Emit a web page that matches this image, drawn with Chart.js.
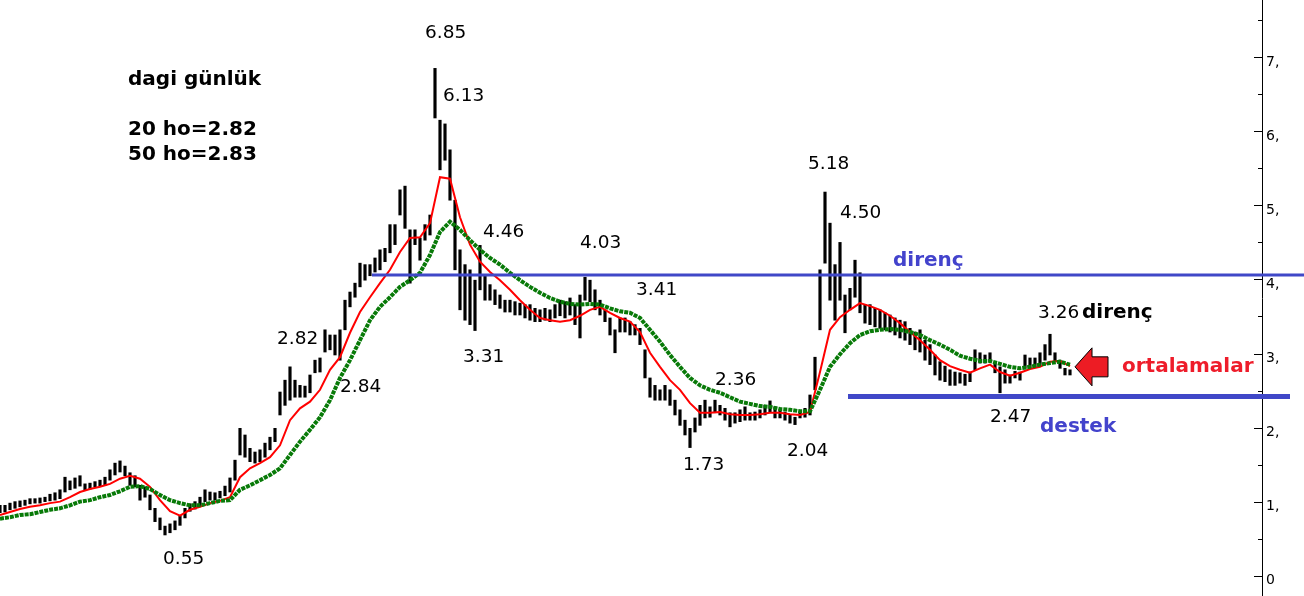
<!DOCTYPE html>
<html>
<head>
<meta charset="utf-8">
<script src="https://cdn.jsdelivr.net/npm/chart.js@4.4.1/dist/chart.umd.min.js"></script>
<style>
  html, body { margin: 0; padding: 0; background: #fff; }
  #wrap { width: 1304px; height: 596px; position: relative; }
</style>
</head>
<body>
<div id="wrap"><canvas id="dagi-chart"></canvas></div>
<script>
// daily bars: low and high, one entry per trading day
const barLows = [
  0.85, 0.86, 0.89, 0.91, 0.93, 0.95, 0.97, 0.98, 0.98, 1.00,
  1.01, 1.02, 1.04, 1.13, 1.16, 1.18, 1.21, 1.16, 1.17, 1.20,
  1.21, 1.22, 1.29, 1.36, 1.40, 1.35, 1.22, 1.20, 1.02, 1.06,
  0.89, 0.73, 0.62, 0.55, 0.58, 0.62, 0.68, 0.78, 0.87, 0.90,
  0.94, 1.00, 1.02, 1.02, 1.05, 1.08, 1.13, 1.29, 1.63, 1.60,
  1.54, 1.52, 1.54, 1.60, 1.70, 1.81, 2.17, 2.30, 2.37, 2.41,
  2.41, 2.41, 2.47, 2.74, 2.75, 3.02, 3.05, 2.98, 2.91, 3.32,
  3.63, 3.76, 3.90, 3.99, 4.05, 4.10, 4.13, 4.24, 4.36, 4.47,
  4.87, 4.69, 3.95, 4.47, 4.26, 4.53, 4.60, 6.18, 5.48, 5.61,
  5.07, 4.13, 3.59, 3.45, 3.39, 3.31, 3.86, 3.72, 3.72, 3.66,
  3.61, 3.56, 3.56, 3.52, 3.52, 3.48, 3.45, 3.43, 3.43, 3.45,
  3.43, 3.48, 3.51, 3.48, 3.52, 3.39, 3.21, 3.72, 3.70, 3.59,
  3.52, 3.43, 3.25, 3.01, 3.29, 3.29, 3.25, 3.25, 3.12, 2.67,
  2.41, 2.37, 2.37, 2.37, 2.30, 2.17, 2.03, 1.90, 1.73, 1.94,
  2.03, 2.13, 2.14, 2.20, 2.17, 2.10, 2.01, 2.06, 2.08, 2.10,
  2.10, 2.10, 2.13, 2.17, 2.21, 2.13, 2.13, 2.10, 2.06, 2.04,
  2.13, 2.14, 2.17, 2.51, 3.32, 4.22, 3.72, 3.45, 3.72, 3.28,
  3.59, 3.76, 3.55, 3.41, 3.39, 3.36, 3.34, 3.32, 3.29, 3.25,
  3.21, 3.18, 3.12, 3.05, 3.02, 2.91, 2.85, 2.71, 2.64, 2.62,
  2.57, 2.57, 2.60, 2.57, 2.62, 2.78, 2.87, 2.87, 2.89, 2.74,
  2.47, 2.60, 2.60, 2.67, 2.64, 2.80, 2.80, 2.82, 2.85, 2.91,
  2.98, 2.89, 2.80, 2.71, 2.71
];
const barHighs = [
  0.95, 0.95, 0.98, 1.00, 1.01, 1.02, 1.04, 1.04, 1.05, 1.06,
  1.10, 1.12, 1.16, 1.33, 1.28, 1.32, 1.35, 1.24, 1.25, 1.27,
  1.29, 1.33, 1.43, 1.52, 1.55, 1.48, 1.39, 1.35, 1.22, 1.20,
  1.09, 0.91, 0.78, 0.67, 0.70, 0.74, 0.81, 0.91, 0.97, 1.00,
  1.06, 1.16, 1.13, 1.12, 1.14, 1.21, 1.32, 1.56, 1.99, 1.90,
  1.72, 1.67, 1.70, 1.79, 1.87, 1.99, 2.48, 2.64, 2.82, 2.64,
  2.57, 2.56, 2.71, 2.91, 2.94, 3.32, 3.25, 3.25, 3.32, 3.72,
  3.83, 3.95, 4.22, 4.20, 4.20, 4.29, 4.40, 4.42, 4.74, 4.74,
  5.21, 5.26, 4.67, 4.67, 4.56, 4.74, 4.87, 6.85, 6.15, 6.10,
  5.75, 5.07, 4.40, 4.20, 4.13, 3.99, 4.46, 4.06, 3.93, 3.86,
  3.79, 3.72, 3.72, 3.70, 3.68, 3.66, 3.66, 3.61, 3.59, 3.61,
  3.59, 3.66, 3.72, 3.70, 3.75, 3.66, 3.79, 4.03, 3.99, 3.86,
  3.72, 3.59, 3.48, 3.32, 3.48, 3.48, 3.43, 3.39, 3.34, 3.05,
  2.67, 2.57, 2.51, 2.57, 2.51, 2.37, 2.24, 2.10, 1.99, 2.13,
  2.30, 2.37, 2.28, 2.37, 2.30, 2.26, 2.20, 2.20, 2.24, 2.28,
  2.20, 2.21, 2.24, 2.30, 2.36, 2.28, 2.24, 2.21, 2.17, 2.14,
  2.21, 2.26, 2.44, 2.95, 4.13, 5.18, 4.76, 4.20, 4.50, 3.79,
  3.88, 4.26, 4.09, 3.66, 3.66, 3.61, 3.59, 3.55, 3.52, 3.48,
  3.45, 3.43, 3.34, 3.29, 3.32, 3.18, 3.12, 2.98, 2.89, 2.83,
  2.78, 2.75, 2.74, 2.72, 2.75, 3.05, 3.01, 2.98, 3.01, 2.87,
  2.82, 2.78, 2.71, 2.76, 2.75, 2.98, 2.94, 2.94, 3.01, 3.12,
  3.26, 3.01, 2.91, 2.80, 2.78
];

// moving averages, read every second day
const maStep = 2;
const ma20 = [
  0.82, 0.86, 0.90, 0.93, 0.95, 0.98, 1.00, 1.06, 1.13, 1.17,
  1.20, 1.24, 1.31, 1.35, 1.31, 1.20, 1.02, 0.87, 0.81, 0.89,
  0.93, 0.98, 1.01, 1.06, 1.33, 1.45, 1.52, 1.60, 1.76, 2.10,
  2.26, 2.35, 2.51, 2.78, 2.95, 3.28, 3.56, 3.76, 3.95, 4.13,
  4.37, 4.56, 4.57, 4.76, 5.38, 5.36, 4.84, 4.47, 4.24, 4.10,
  3.99, 3.86, 3.72, 3.59, 3.48, 3.45, 3.43, 3.45, 3.51, 3.59,
  3.63, 3.55, 3.48, 3.43, 3.29, 3.01, 2.82, 2.64, 2.51, 2.33,
  2.20, 2.20, 2.21, 2.18, 2.17, 2.17, 2.18, 2.20, 2.20, 2.18,
  2.17, 2.21, 2.75, 3.32, 3.49, 3.59, 3.68, 3.64, 3.59, 3.51,
  3.41, 3.29, 3.18, 3.05, 2.91, 2.83, 2.78, 2.74, 2.80, 2.85,
  2.75, 2.70, 2.74, 2.79, 2.82, 2.89, 2.90, 2.83
];
const ma50 = [
  0.77, 0.79, 0.82, 0.83, 0.86, 0.89, 0.91, 0.95, 1.00, 1.02,
  1.06, 1.09, 1.14, 1.20, 1.21, 1.17, 1.09, 1.02, 0.98, 0.95,
  0.95, 0.98, 1.01, 1.02, 1.16, 1.22, 1.29, 1.36, 1.45, 1.63,
  1.81, 1.97, 2.14, 2.37, 2.67, 2.91, 3.18, 3.45, 3.63, 3.76,
  3.90, 3.99, 4.09, 4.33, 4.64, 4.78, 4.67, 4.53, 4.40, 4.29,
  4.20, 4.09, 3.99, 3.90, 3.82, 3.75, 3.70, 3.67, 3.66, 3.67,
  3.66, 3.61, 3.57, 3.55, 3.48, 3.32, 3.16, 2.98, 2.82, 2.67,
  2.57, 2.51, 2.47, 2.41, 2.35, 2.32, 2.29, 2.28, 2.25, 2.24,
  2.22, 2.22, 2.51, 2.82, 2.99, 3.14, 3.25, 3.30, 3.32, 3.33,
  3.32, 3.29, 3.25, 3.18, 3.12, 3.05, 2.97, 2.93, 2.90, 2.90,
  2.86, 2.82, 2.80, 2.82, 2.85, 2.87, 2.89, 2.85
];

// support / resistance levels (price, first day, last day)
const direnc = { level: 4.06, from: 74.4, to: 261 };
const destek = { level: 2.42, from: 169.6, to: 258 };

const tickLabels = ['0', '1,', '2,', '3,', '4,', '5,', '6,', '7,'];

Chart.defaults.font.family = "'DejaVu Sans', Verdana, sans-serif";

const bars = barLows.map((lo, i) => ({ x: i, y: [lo, barHighs[i]] }));
const ma20Pts = ma20.map((v, j) => ({ x: j * maStep, y: v }));
const ma50Pts = ma50.map((v, j) => ({ x: j * maStep, y: v }));

// tick marks drawn inside the plot, left of the axis line
const inwardTicks = {
  id: 'inwardTicks',
  afterDraw(chart) {
    const ys = chart.scales.y;
    const ctx = chart.ctx;
    ctx.save();
    ctx.strokeStyle = '#000';
    ctx.lineWidth = 1;
    ys.ticks.forEach(t => {
      const py = Math.round(ys.getPixelForValue(t.value)) + 0.5;
      const len = Number.isInteger(t.value) ? 8 : 4;
      ctx.beginPath();
      ctx.moveTo(ys.left - len, py);
      ctx.lineTo(ys.left, py);
      ctx.stroke();
    });
    ctx.restore();
  }
};

const NUM = '18.5px "DejaVu Sans"';
const BOLD = 'bold 20px "DejaVu Sans"';
const notes = [
  ['6.85', 85.0, 7.26, NUM, '#000'],
  ['6.13', 88.6, 6.41, NUM, '#000'],
  ['4.46', 96.6, 4.57, NUM, '#000'],
  ['4.03', 116.0, 4.42, NUM, '#000'],
  ['3.41', 127.2, 3.79, NUM, '#000'],
  ['3.31', 92.6, 2.89, NUM, '#000'],
  ['2.82', 55.4, 3.13, NUM, '#000'],
  ['2.84', 68.0, 2.48, NUM, '#000'],
  ['0.55', 32.6, 0.16, NUM, '#000'],
  ['2.36', 143.0, 2.58, NUM, '#000'],
  ['1.73', 136.6, 1.43, NUM, '#000'],
  ['2.04', 157.4, 1.62, NUM, '#000'],
  ['5.18', 161.6, 5.49, NUM, '#000'],
  ['4.50', 168.0, 4.83, NUM, '#000'],
  ['3.26', 207.6, 3.48, NUM, '#000'],
  ['2.47', 198.0, 2.07, NUM, '#000'],
  ['direnç', 178.6, 4.18, BOLD, '#4343cc'],
  ['direnç', 216.4, 3.48, BOLD, '#000'],
  ['destek', 208.0, 1.94, BOLD, '#4343cc'],
  ['ortalamalar', 224.4, 2.75, BOLD, '#ee1c2a'],
  ['dagi günlük', 25.6, 6.63, BOLD, '#000'],
  ['20 ho=2.82', 25.6, 5.95, BOLD, '#000'],
  ['50 ho=2.83', 25.6, 5.61, BOLD, '#000']
];
const arrowAt = { day: 215, value: 2.82 };

const annotations = {
  id: 'annotations',
  afterDatasetsDraw(chart) {
    const xs = chart.scales.x, ys = chart.scales.y, ctx = chart.ctx;
    ctx.save();
    ctx.textBaseline = 'alphabetic';
    ctx.textAlign = 'left';
    notes.forEach(([text, day, value, font, color]) => {
      ctx.font = font;
      ctx.fillStyle = color;
      ctx.fillText(text, xs.getPixelForValue(day), ys.getPixelForValue(value));
    });
    // red arrow pointing at the averages
    const tx = xs.getPixelForValue(arrowAt.day), ty = ys.getPixelForValue(arrowAt.value);
    ctx.beginPath();
    ctx.moveTo(tx, ty);
    ctx.lineTo(tx + 17, ty - 19);
    ctx.lineTo(tx + 17, ty - 10);
    ctx.lineTo(tx + 33, ty - 10);
    ctx.lineTo(tx + 33, ty + 10);
    ctx.lineTo(tx + 17, ty + 10);
    ctx.lineTo(tx + 17, ty + 19);
    ctx.closePath();
    ctx.fillStyle = '#ed1c24';
    ctx.fill();
    ctx.strokeStyle = '#000';
    ctx.lineWidth = 1;
    ctx.stroke();
    ctx.restore();
  }
};

new Chart(document.getElementById('dagi-chart'), {
  type: 'bar',
  data: {
    datasets: [
      {
        label: 'dagi',
        data: bars,
        backgroundColor: '#000',
        borderWidth: 0,
        barThickness: 2.5,
        order: 5
      },
      {
        type: 'line',
        label: '20 ho',
        data: ma20Pts,
        borderColor: '#ff0000',
        borderWidth: 2,
        pointRadius: 0,
        tension: 0,
        order: 3
      },
      {
        type: 'line',
        label: '50 ho',
        data: ma50Pts,
        borderColor: '#087a08',
        borderWidth: 4,
        borderDash: [4, 1],
        pointRadius: 0,
        tension: 0,
        order: 2
      },
      {
        type: 'line',
        label: 'direnç',
        data: [{ x: direnc.from, y: direnc.level }, { x: direnc.to, y: direnc.level }],
        borderColor: '#4048c8',
        borderWidth: 3,
        pointRadius: 0,
        clip: false,
        order: 1
      },
      {
        type: 'line',
        label: 'destek',
        data: [{ x: destek.from, y: destek.level }, { x: destek.to, y: destek.level }],
        borderColor: '#4048c8',
        borderWidth: 5,
        pointRadius: 0,
        clip: false,
        order: 1
      }
    ]
  },
  options: {
    responsive: true,
    maintainAspectRatio: false,
    animation: false,
    layout: { padding: 0 },
    plugins: { legend: { display: false }, tooltip: { enabled: false } },
    scales: {
      x: {
        type: 'linear',
        min: 0,
        max: 252.4,
        offset: false,
        display: false
      },
      y: {
        type: 'linear',
        position: 'right',
        min: -0.274,
        max: 7.773,
        afterFit(s) { s.width = 42; s.paddingTop = 0; s.paddingBottom = 0; },
        grid: { display: false, drawTicks: false },
        border: { display: true, color: '#000', width: 1 },
        ticks: {
          stepSize: 0.5,
          includeBounds: false,
          autoSkip: false,
          padding: 4,
          labelOffset: 5,
          color: '#000',
          font: { size: 14 },
          callback: v => Number.isInteger(v) ? tickLabels[v] : ''
        }
      }
    }
  },
  plugins: [inwardTicks, annotations]
});
</script>
</body>
</html>
